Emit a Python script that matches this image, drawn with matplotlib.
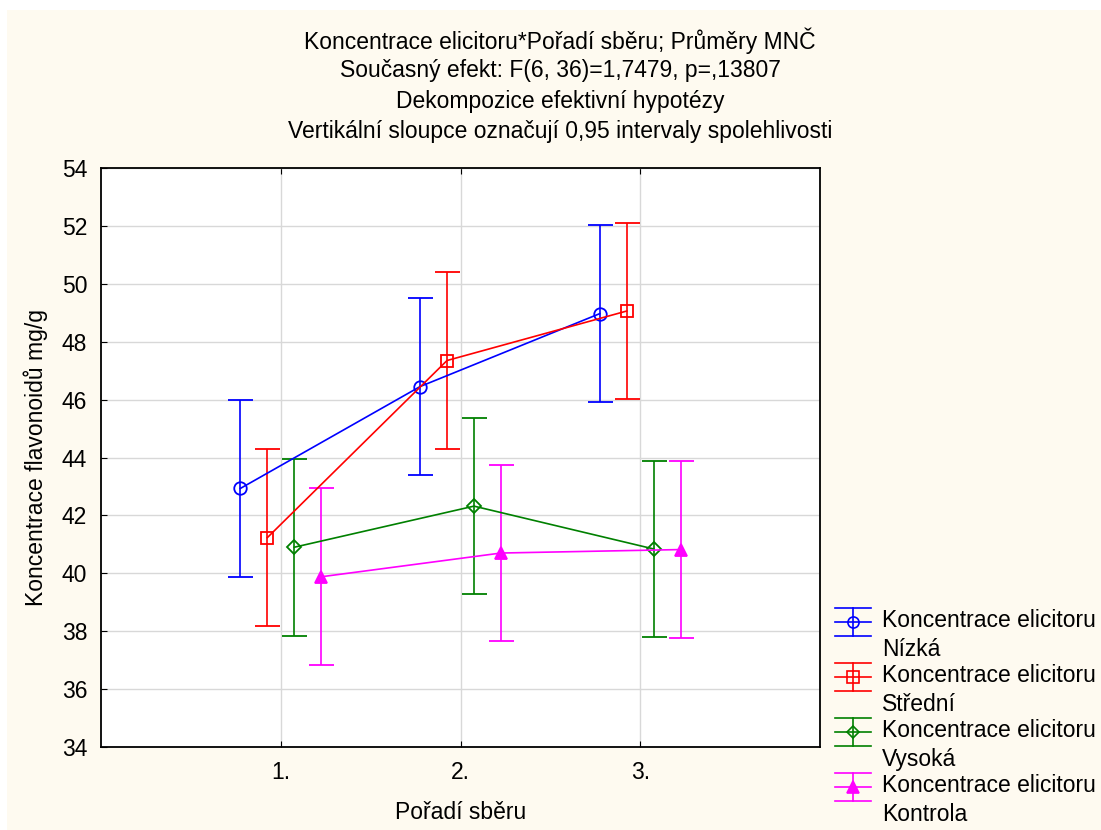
import matplotlib
matplotlib.use("Agg")
import matplotlib.pyplot as plt
from matplotlib.legend_handler import HandlerBase
from matplotlib.lines import Line2D
from matplotlib.patches import Rectangle

plt.rcParams['font.family'] = ['Liberation Sans', 'DejaVu Sans']

categories = ["1.", "2.", "3."]
series_names = ["Koncentrace elicitoru\nNízká", "Koncentrace elicitoru\nStřední",
                "Koncentrace elicitoru\nVysoká", "Koncentrace elicitoru\nKontrola"]
nizka = [42.93, 46.45, 48.97]
stredni = [41.23, 47.35, 49.06]
vysoka = [40.90, 42.32, 40.84]
kontrola = [39.88, 40.70, 40.82]
ci_half = [3.05, 3.05, 3.05]

colors = ["#0000FF", "#FF0000", "#008000", "#FF00FF"]
markers = ["o", "s", "D", "^"]
offsets = [-0.225, -0.075, 0.075, 0.225]
title_lines = ["Koncentrace elicitoru*Pořadí sběru; Průměry MNČ",
               "Současný efekt: F(6, 36)=1,7479, p=,13807",
               "Dekompozice efektivní hypotézy",
               "Vertikální sloupce označují 0,95 intervaly spolehlivosti"]
FS = 16.5


class ErrHandler(HandlerBase):
    # legend symbol: three horizontal lines, a vertical bar and the marker
    def create_artists(self, legend, orig_handle, xdescent, ydescent,
                       width, height, fontsize, trans):
        line = orig_handle.lines[0]
        c = line.get_color()
        yc = height / 2 - ydescent + fontsize * 0.62
        dy = 10
        arts = []
        for y in (yc - dy, yc, yc + dy):
            arts.append(Line2D([-xdescent, -xdescent + width], [y, y], color=c, lw=1.2))
        xm = -xdescent + width / 2
        arts.append(Line2D([xm, xm], [yc - dy, yc + dy], color=c, lw=1.2))
        arts.append(Line2D([xm], [yc], marker=line.get_marker(), color=c,
                           markerfacecolor=c if line.get_marker() == "^" else "none",
                           markersize=8 if line.get_marker() != "D" else 6.5, mew=1.2))
        for a in arts:
            a.set_transform(trans)
        return arts


fig = plt.figure(figsize=(11.01, 8.30), dpi=100)
fig.patch.set_facecolor("white")
fig.patches.append(Rectangle((7 / 1101, 0), 1, 1 - 10 / 830, transform=fig.transFigure,
                             facecolor="#FEFAF0", edgecolor="none", zorder=-10))

ax = fig.add_axes([101 / 1101, 1 - 747 / 830, 719 / 1101, 579 / 830])
ax.set_facecolor("white")

handles = []
for i, vals in enumerate([nizka, stredni, vysoka, kontrola]):
    xs = [k + 1 + offsets[i] for k in range(len(categories))]
    mfc = colors[i] if markers[i] == "^" else "none"
    h = ax.errorbar(xs, vals, yerr=ci_half, color=colors[i], marker=markers[i],
                    markersize=9 if markers[i] != "D" else 7, mfc=mfc, mew=1.3,
                    lw=1.2, elinewidth=1.2, capsize=9, capthick=1.2, zorder=3)
    handles.append(h)

ax.set_xlim(0, 4)
ax.set_ylim(34, 54)
ax.set_xticks([1, 2, 3])
ax.set_xticklabels(categories)
ax.set_yticks(range(34, 55, 2))
ax.grid(True, color="#D8D8D8", lw=1)
ax.set_axisbelow(True)
ax.tick_params(direction="in", labelsize=FS, length=4, top=True, right=False, pad=10)
for s in ax.spines.values():
    s.set_linewidth(1.3)
    s.set_color("black")

ax.set_xlabel("Pořadí sběru", fontsize=FS, labelpad=12)
ax.set_ylabel("Koncentrace flavonoidů mg/g", fontsize=FS, labelpad=10)

for j, t in enumerate(title_lines):
    fig.text(560 / 1101, 1 - (40.5 + 30.3 * j) / 830, t, ha="center", va="center", fontsize=FS)

leg = fig.legend(handles, series_names, handler_map={type(handles[0]): ErrHandler()},
                 loc="upper left", bbox_to_anchor=(835 / 1101, 1 - 609 / 830),
                 frameon=False, fontsize=FS, handlelength=1.55, handletextpad=0.5,
                 labelspacing=0.12, borderpad=0, borderaxespad=0)
for t in leg.get_texts():
    t.set_linespacing(1.35)

fig.savefig("out.png", dpi=100, facecolor=fig.get_facecolor())
